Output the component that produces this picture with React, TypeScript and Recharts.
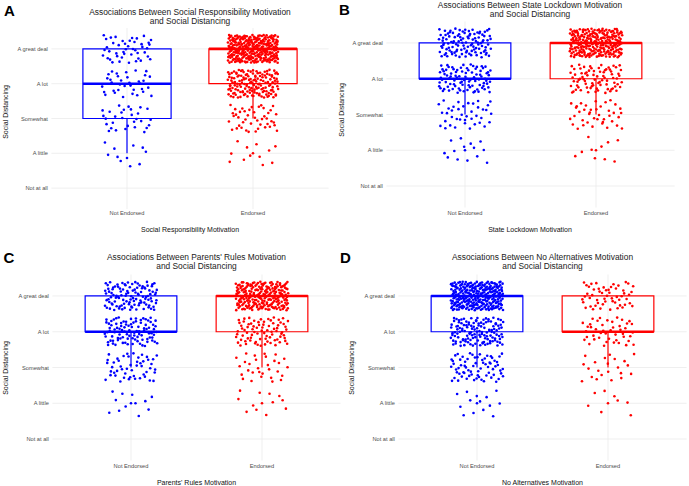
import React from 'react';
import { ComposedChart, Scatter, XAxis, YAxis, CartesianGrid, ReferenceArea, ReferenceLine } from 'recharts';

const responseLevels = ['Not at all', 'A little', 'Somewhat', 'A lot', 'A great deal'];
const endorsementGroups = ['Not Endorsed', 'Endorsed'];

// respondents per response level, ordered Not at all .. A great deal
const socialRespNotEndorsed = [0, 11, 30, 35, 45];
const socialRespEndorsed = [0, 12, 45, 150, 300];
const lockdownNotEndorsed = [0, 14, 40, 90, 110];
const lockdownEndorsed = [0, 10, 40, 80, 250];
const parentsNotEndorsed = [0, 12, 50, 95, 110];
const parentsEndorsed = [0, 12, 30, 80, 230];
const noAltNotEndorsed = [0, 14, 70, 130, 280];
const noAltEndorsed = [0, 8, 22, 45, 55];

const panelTitles = [
  'Social Responsibility Motivation',
  'State Lockdown Motivation',
  "Parents' Rules Motivation",
  'No Alternatives Motivation',
];

const FONT = '"Liberation Sans", Arial, sans-serif';
const BLUE = '#0000FF';
const RED = '#FF0000';

const panels = [
  { letter: 'A', counts: [socialRespNotEndorsed, socialRespEndorsed], left: 0, top: 0, width: 344,
    plot: { l: 51.4, r: 15.4, t: 28, b: 34 }, tickGap: 2,
    title: [190, 12, 21], xTitle: [190, 229], yTitle: [5, 112], tag: [9.5, 10] },
  { letter: 'B', counts: [lockdownNotEndorsed, lockdownEndorsed], left: 344, top: 0, width: 345,
    plot: { l: 42.4, r: 14.4, t: 21.5, b: 35.5 }, tickGap: 3.5,
    title: [530, 5, 14.3], xTitle: [530, 229], yTitle: [341, 110], tag: [344.5, 9] },
  { letter: 'C', counts: [parentsNotEndorsed, parentsEndorsed], left: 0, top: 243, width: 344,
    plot: { l: 52.4, r: 3.4, t: 31.5, b: 25.5 }, tickGap: 3,
    title: [196.5, 257, 266.3], xTitle: [196.5, 481.7], yTitle: [5, 367.5], tag: [9, 256.5] },
  { letter: 'D', counts: [noAltNotEndorsed, noAltEndorsed], left: 344, top: 243, width: 345,
    plot: { l: 54.4, r: 2.4, t: 31.5, b: 25.5 }, tickGap: 3,
    title: [542.5, 257, 266.3], xTitle: [542.5, 481.7], yTitle: [351, 367.5], tag: [345.5, 256.5] },
];

// deterministic low-discrepancy sequence used for the jitter
const halton = (i: number, b: number) => {
  let f = 1, r = 0;
  while (i > 0) { f /= b; r += f * (i % b); i = Math.floor(i / b); }
  return r;
};

const quantile = (s: number[], p: number) => {
  const h = (s.length - 1) * p;
  const lo = Math.floor(h);
  const hi = Math.min(lo + 1, s.length - 1);
  return s[lo] + (h - lo) * (s[hi] - s[lo]);
};

const boxStats = (counts: number[]) => {
  const vals = counts.flatMap((n, i) => Array(n).fill(i + 1));
  const q1 = quantile(vals, 0.25), med = quantile(vals, 0.5), q3 = quantile(vals, 0.75);
  const iqr = q3 - q1;
  const inside = vals.filter(v => v >= q1 - 1.5 * iqr && v <= q3 + 1.5 * iqr);
  const outliers = Array.from(new Set(vals.filter(v => v < q1 - 1.5 * iqr || v > q3 + 1.5 * iqr)));
  return { q1, med, q3, lw: Math.min(...inside), uw: Math.max(...inside), outliers };
};

const jitterPoints = (counts: number[], g: number, seed: number) => {
  const pts: { x: number; y: number }[] = [];
  let k = seed;
  counts.forEach((n, i) => {
    for (let j = 0; j < n; j++) {
      pts.push({ x: g + (halton(k, 2) - 0.5) * 0.4, y: i + 1 + (halton(k, 3) - 0.5) * 0.8 });
      k++;
    }
  });
  return pts;
};

const dot = (color: string) => (props: any) =>
  <circle cx={props.cx} cy={props.cy} r={1.3} fill={color} />;

const TickText = ({ x, y, payload, textAnchor, labels, vertical }: any) => (
  <text x={x} y={y} dy={vertical ? '0.355em' : '0.71em'} textAnchor={textAnchor}
    fontSize={5.7} fill="#4D4D4D" fontFamily={FONT}>
    {labels[payload.value - 1]}
  </text>
);

const Panel = ({ p, idx }: { p: typeof panels[number]; idx: number }) => {
  const colors = [BLUE, RED];
  return (
    <div style={{ position: 'absolute', left: p.left, top: p.top }}>
      <ComposedChart width={p.width} height={243}
        margin={{ top: p.plot.t, right: p.plot.r, bottom: 0, left: 0 }}>
        <CartesianGrid stroke="#EBEBEB" strokeWidth={0.8}
          horizontalValues={[1, 2, 3, 4, 5]} verticalValues={[1, 2]} />
        <XAxis type="number" dataKey="x" domain={[0.4, 2.6]} ticks={[1, 2]}
          axisLine={false} tickLine={false} tickSize={0} tickMargin={p.tickGap}
          height={p.plot.b} interval={0}
          tick={<TickText labels={endorsementGroups} />} />
        <YAxis type="number" dataKey="y" domain={[0.4, 5.6]} ticks={[1, 2, 3, 4, 5]}
          axisLine={false} tickLine={false} tickSize={0} tickMargin={3.5}
          width={p.plot.l} interval={0}
          tick={<TickText labels={responseLevels} vertical />} />
        {p.counts.map((c, gi) => {
          const g = gi + 1;
          const s = boxStats(c);
          const col = colors[gi];
          return (
            <React.Fragment key={'box' + gi}>
              <ReferenceArea x1={g - 0.35} x2={g + 0.35} y1={s.q1} y2={s.q3}
                fill="none" fillOpacity={0} stroke={col} strokeWidth={1.2} ifOverflow="visible" />
              <ReferenceLine segment={[{ x: g - 0.35, y: s.med }, { x: g + 0.35, y: s.med }]}
                stroke={col} strokeWidth={2.6} ifOverflow="visible" />
              {s.lw < s.q1 && (
                <ReferenceLine segment={[{ x: g, y: s.lw }, { x: g, y: s.q1 }]}
                  stroke={col} strokeWidth={1.2} ifOverflow="visible" />
              )}
              {s.uw > s.q3 && (
                <ReferenceLine segment={[{ x: g, y: s.q3 }, { x: g, y: s.uw }]}
                  stroke={col} strokeWidth={1.2} ifOverflow="visible" />
              )}
            </React.Fragment>
          );
        })}
        {p.counts.map((c, gi) => (
          <Scatter key={'pts' + gi} data={jitterPoints(c, gi + 1, 1 + idx * 2000 + gi * 900)}
            shape={dot(colors[gi])} isAnimationActive={false} />
        ))}
        {p.counts.map((c, gi) => (
          <Scatter key={'out' + gi}
            data={boxStats(c).outliers.map(v => ({ x: gi + 1, y: v }))}
            shape={dot(colors[gi])} isAnimationActive={false} />
        ))}
      </ComposedChart>
    </div>
  );
};

const centered = (x: number, y: number, extra: React.CSSProperties = {}): React.CSSProperties => ({
  position: 'absolute', left: x, top: y, transform: 'translate(-50%, -50%)',
  whiteSpace: 'nowrap', lineHeight: 1, fontFamily: FONT, ...extra,
});

export default function App() {
  return (
    <div style={{ position: 'absolute', left: 0, top: 0, width: 689, height: 486, background: '#fff', overflow: 'hidden' }}>
      {panels.map((p, i) => <Panel key={p.letter} p={p} idx={i} />)}
      {panels.map((p, i) => (
        <React.Fragment key={'txt' + p.letter}>
          <div style={centered(p.tag[0], p.tag[1], { fontSize: 15, fontWeight: 'bold', color: '#000' })}>{p.letter}</div>
          <div style={centered(p.title[0], p.title[1], { fontSize: 8.4, color: '#222' })}>
            {`Associations Between ${panelTitles[i]}`}
          </div>
          <div style={centered(p.title[0], p.title[2], { fontSize: 8.4, color: '#222' })}>and Social Distancing</div>
          <div style={centered(p.xTitle[0], p.xTitle[1], { fontSize: 7, color: '#111' })}>{panelTitles[i]}</div>
          <div style={centered(p.yTitle[0], p.yTitle[1], { fontSize: 7, color: '#111', transform: 'translate(-50%, -50%) rotate(-90deg)' })}>
            Social Distancing
          </div>
        </React.Fragment>
      ))}
    </div>
  );
}
